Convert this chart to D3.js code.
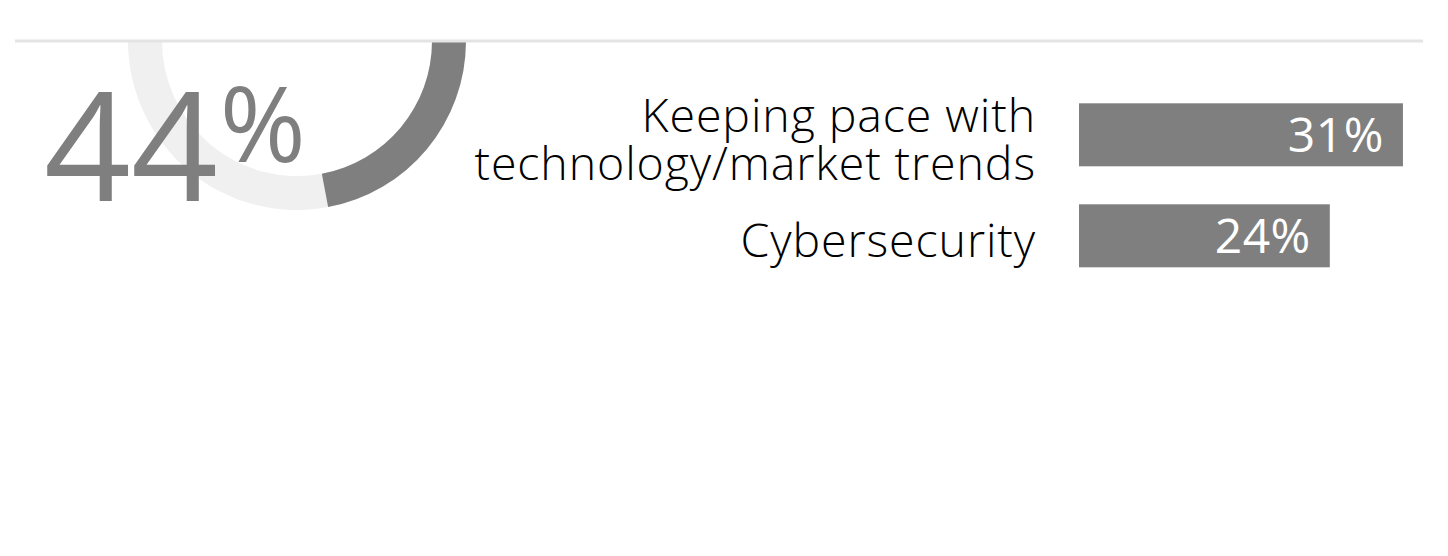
<!DOCTYPE html>
<html><head><meta charset="utf-8">
<script src="https://cdn.jsdelivr.net/npm/d3@7/dist/d3.min.js"></script>
<style>
html,body{margin:0;padding:0;background:#fff;}
svg{display:block;}
</style></head>
<body>
<svg id="chart" width="1448" height="556"></svg>
<script>
const donutValue = 44;
const categories = [["Keeping pace with", "technology/market trends"], ["Cybersecurity"]];
const values = [31, 24];
const valueLabels = ["31%", "24%"];

const svg = d3.select("#chart");
const W = 1448, H = 556;
const grey = "#7f7f7f";

// clip for donut (only below top rule)
svg.append("defs").append("clipPath").attr("id", "below")
  .append("rect").attr("x", 0).attr("y", 41).attr("width", W).attr("height", H);

// donut
const cx = 297, cy = 41, R = 169, r = 135;
const endA = (180 - 10.6) * Math.PI / 180;
const angle = d3.scaleLinear().domain([0, 100]).range([0, 2 * Math.PI]);
const startA = endA - angle(donutValue);
const arc = d3.arc().innerRadius(r).outerRadius(R);
const g = svg.append("g").attr("clip-path", "url(#below)")
  .append("g").attr("transform", `translate(${cx},${cy})`);
g.append("path").attr("d", arc({startAngle: endA, endAngle: startA + 2 * Math.PI})).attr("fill", "#f0f0f0");
g.append("path").attr("d", arc({startAngle: startA, endAngle: endA})).attr("fill", grey);

// top rule
svg.append("rect").attr("x", 15).attr("y", 39.5).attr("width", 1408).attr("height", 3).attr("fill", "#e4e4e4");

// big number
const big = svg.append("text").attr("x", 44).attr("y", 201)
  .attr("font-family", "'Open Sans', sans-serif").attr("fill", grey);
big.append("tspan").attr("font-size", 152).text(String(donutValue));
big.append("tspan").attr("font-size", 104).attr("dx", 2).attr("dy", -39).text("%");

// bars
const x = d3.scaleLinear().domain([0, 100]).range([0, 1045]);
const barX = 1079;
const step = 101, bh = 63;

const rows = svg.append("g").selectAll("g").data(values).join("g")
  .attr("transform", (d, i) => `translate(0,${103.3 + i * step})`);
rows.append("rect").attr("x", barX).attr("y", 0).attr("height", bh)
  .attr("width", d => x(d)).attr("fill", grey);
rows.append("text").attr("x", d => barX + x(d) - 19).attr("y", bh / 2 + 17)
  .attr("text-anchor", "end").attr("font-family", "'Open Sans', sans-serif")
  .attr("font-size", 48).attr("letter-spacing", 0.5).attr("fill", "#fff").text((d, i) => valueLabels[i]);

rows.each(function (d, i) {
  const lines = categories[i];
  const lh = 48;
  const first = bh / 2 + 17 + 4.5 - (lines.length - 1) * lh / 2;
  lines.forEach((l, k) => d3.select(this).append("text").attr("x", 1036).attr("text-anchor", "end")
    .attr("font-family", "'Open Sans', sans-serif").attr("font-weight", 300)
    .attr("font-size", 46.5).attr("letter-spacing", 0.9).attr("fill", "#000")
    .attr("y", first + k * lh).text(l));
});
</script>
</body></html>
